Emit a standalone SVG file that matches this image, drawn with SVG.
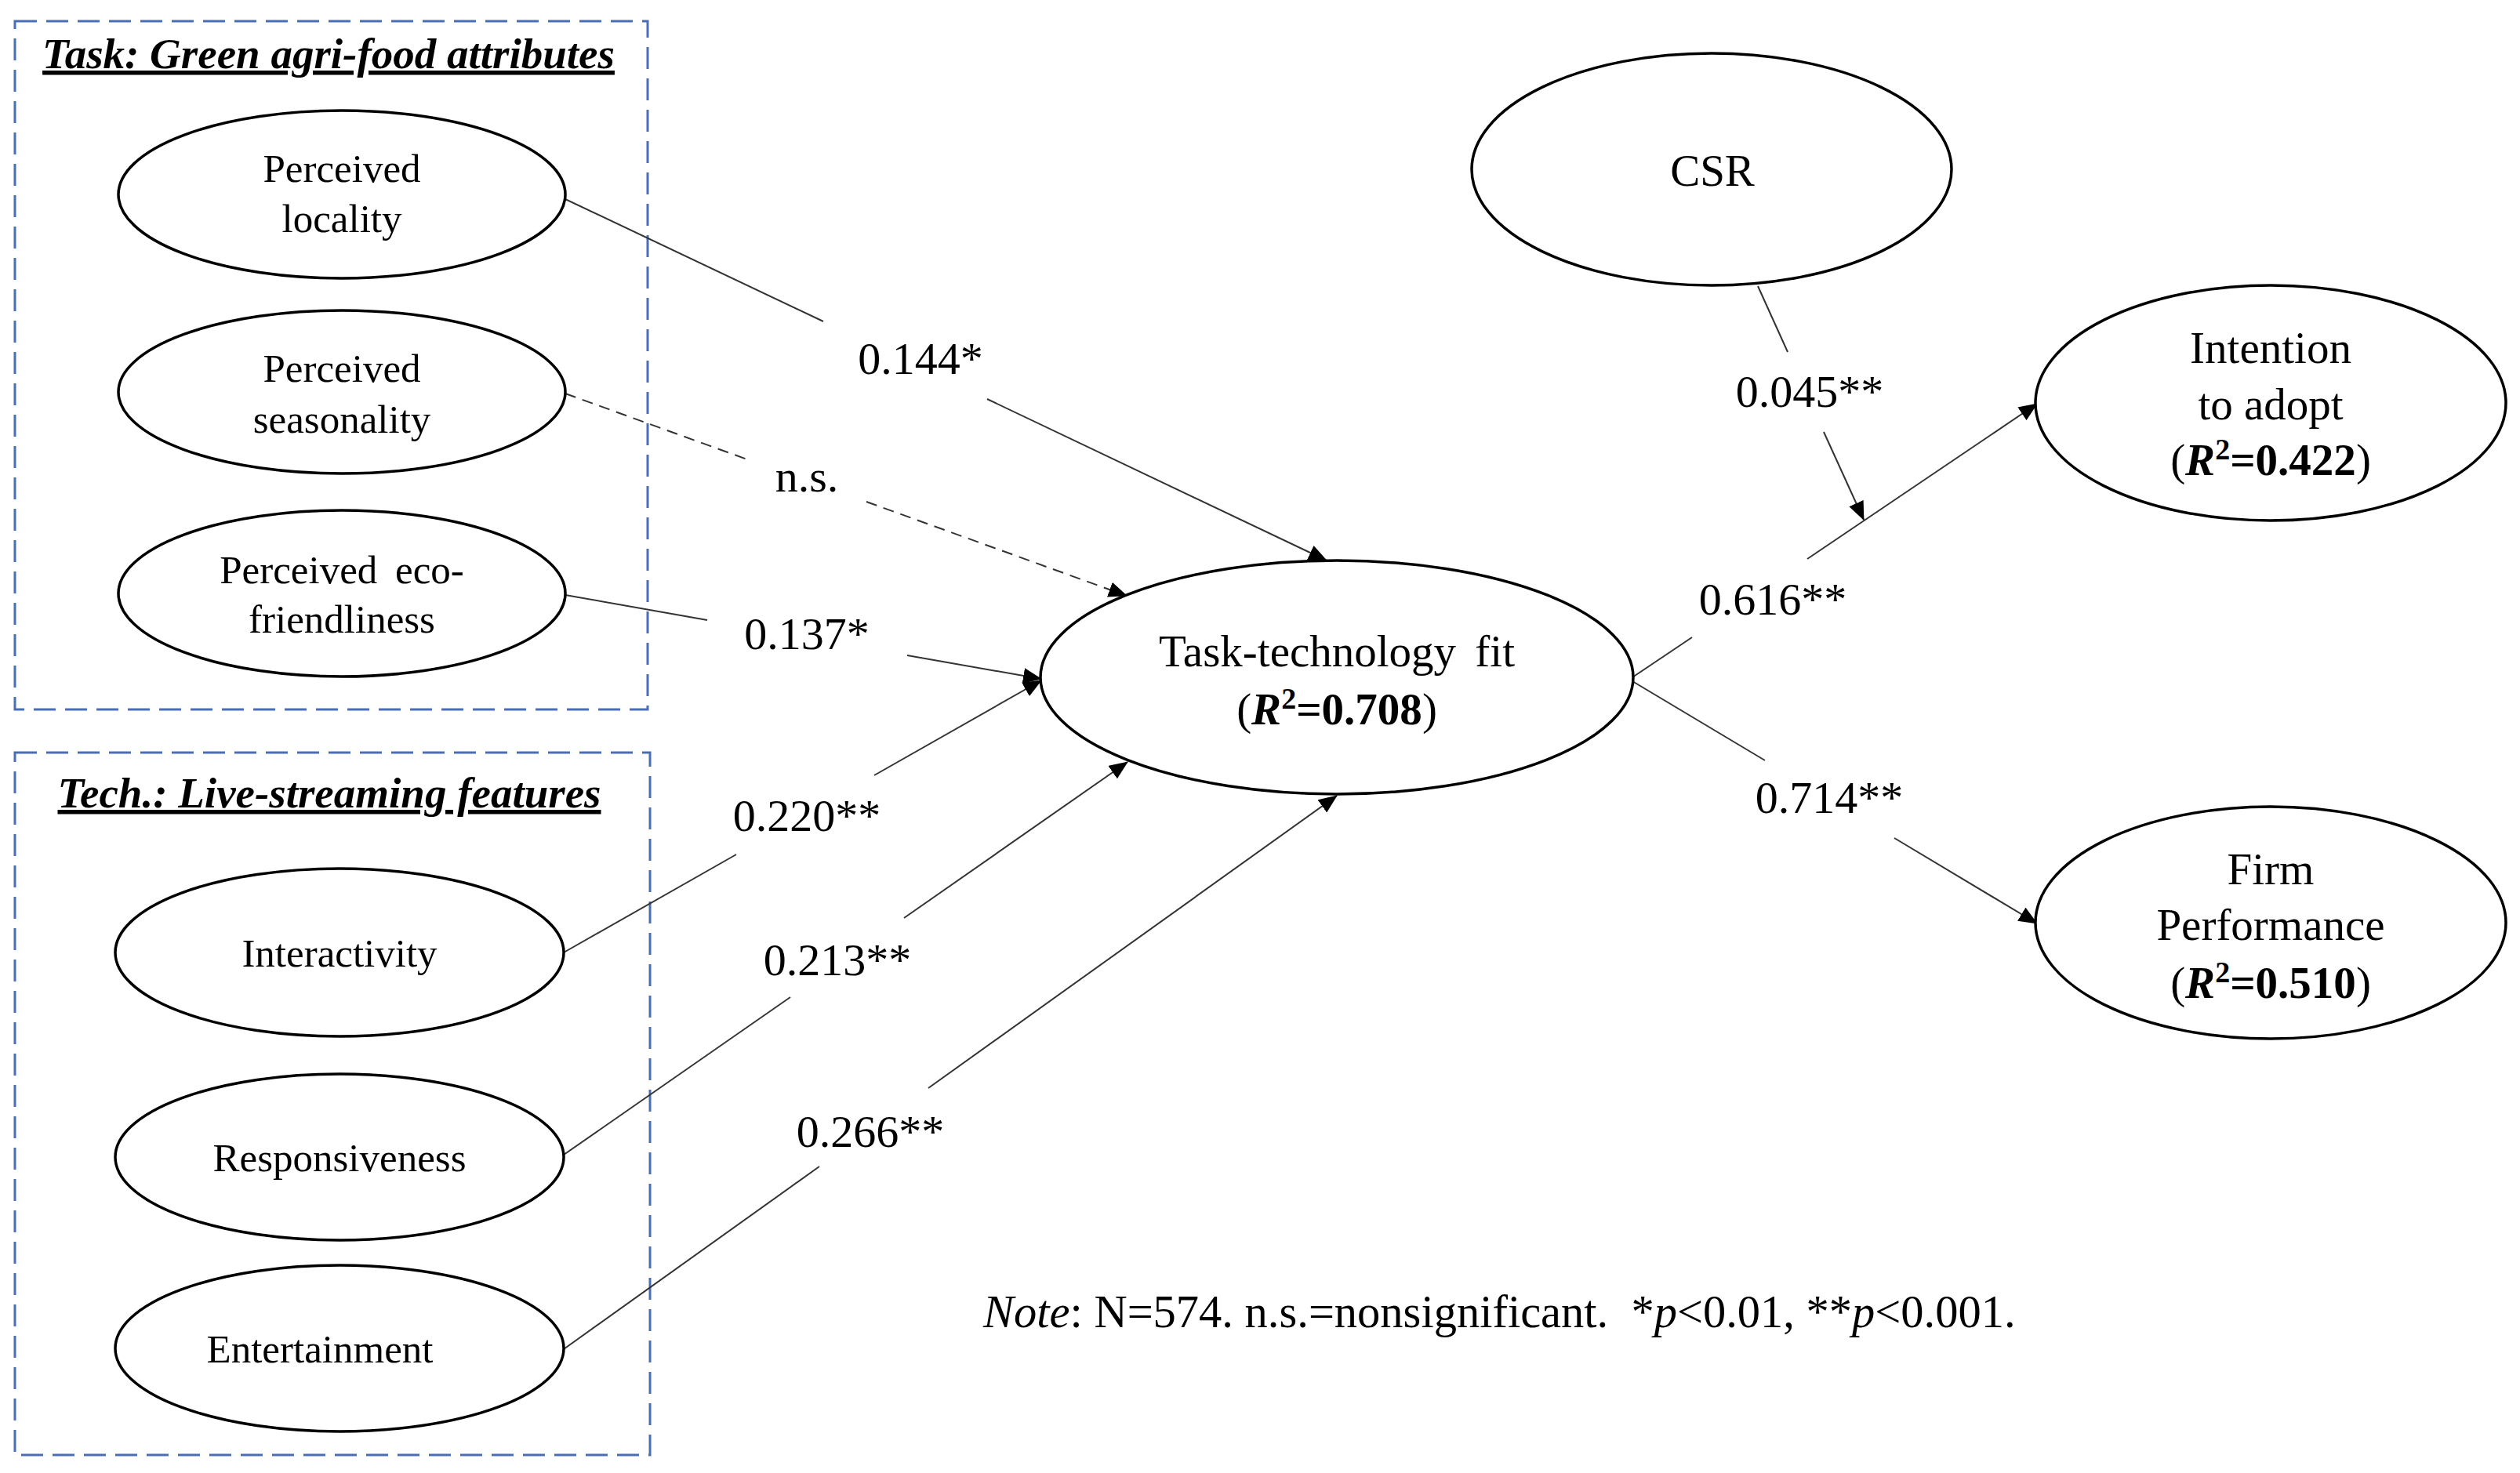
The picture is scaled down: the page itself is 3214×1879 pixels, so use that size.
<svg xmlns="http://www.w3.org/2000/svg" width="3214" height="1879" viewBox="0 0 3214 1879">
<style>
text{font-family:"Liberation Serif","Times New Roman",serif;fill:#000}
.node ellipse{fill:#fff;stroke:#000;stroke-width:3.5}
.sm{font-size:51px;text-anchor:middle}
.lg{font-size:57px;text-anchor:middle}
.lbl{font-size:58px;text-anchor:middle}
.ttl{font-size:55px;font-weight:bold;font-style:italic;text-anchor:middle;text-decoration:underline}
.grp{fill:none;stroke:#4A6EB5;stroke-width:3;stroke-dasharray:28 12}
.conn line{stroke:#333;stroke-width:2}
.dash{stroke-dasharray:14 9}
.b{font-weight:bold}
.i{font-style:italic}
</style>
<defs>
<marker id="ah" markerUnits="userSpaceOnUse" markerWidth="24" markerHeight="20" refX="23" refY="10" orient="auto">
<path d="M0,0 L24,10 L0,20 z" fill="#000"/>
</marker>
</defs>
<rect width="3214" height="1879" fill="#fff"/>

<g id="group-task">
<rect class="grp" x="19" y="27" width="807" height="878"/>
<text class="ttl" x="419" y="87">Task: Green agri-food attributes</text>
</g>
<g id="group-tech">
<rect class="grp" x="19" y="960" width="810" height="896"/>
<text class="ttl" x="420" y="1030">Tech.: Live-streaming features</text>
</g>

<g id="connectors" class="conn">
<line x1="721" y1="254" x2="1050" y2="410"/>
<line x1="1259" y1="509" x2="1692" y2="715" marker-end="url(#ah)"/>
<line class="dash" x1="721" y1="502" x2="953" y2="586"/>
<line class="dash" x1="1105" y1="640" x2="1437" y2="760" marker-end="url(#ah)"/>
<line x1="721" y1="759" x2="902" y2="791"/>
<line x1="1157" y1="836" x2="1328" y2="866" marker-end="url(#ah)"/>
<line x1="719" y1="1215" x2="939" y2="1090"/>
<line x1="1115" y1="989" x2="1328" y2="868" marker-end="url(#ah)"/>
<line x1="719" y1="1473" x2="1008" y2="1272"/>
<line x1="1153" y1="1171" x2="1438" y2="972" marker-end="url(#ah)"/>
<line x1="719" y1="1721" x2="1045" y2="1488"/>
<line x1="1184" y1="1388" x2="1705" y2="1015" marker-end="url(#ah)"/>
<line x1="2082" y1="864" x2="2158" y2="813"/>
<line x1="2305" y1="713" x2="2598" y2="515" marker-end="url(#ah)"/>
<line x1="2242" y1="365" x2="2280" y2="449"/>
<line x1="2326" y1="551" x2="2377" y2="663" marker-end="url(#ah)"/>
<line x1="2082" y1="869" x2="2251" y2="970"/>
<line x1="2416" y1="1069" x2="2598" y2="1178" marker-end="url(#ah)"/>
<text class="lbl" x="1174" y="477">0.144*</text>
<text class="lbl" x="1029" y="627">n.s.</text>
<text class="lbl" x="1029" y="828">0.137*</text>
<text class="lbl" x="1029" y="1060">0.220**</text>
<text class="lbl" x="1068" y="1244">0.213**</text>
<text class="lbl" x="1110" y="1463">0.266**</text>
<text class="lbl" x="2308" y="519">0.045**</text>
<text class="lbl" x="2261" y="784">0.616**</text>
<text class="lbl" x="2333" y="1037">0.714**</text>
</g>

<g id="node-locality" class="node">
<ellipse cx="436" cy="248" rx="285" ry="107"/>
<text class="sm" x="436" y="232">Perceived</text>
<text class="sm" x="436" y="296">locality</text>
</g>
<g id="node-seasonality" class="node">
<ellipse cx="436" cy="500" rx="285" ry="104"/>
<text class="sm" x="436" y="487">Perceived</text>
<text class="sm" x="436" y="552">seasonality</text>
</g>
<g id="node-eco" class="node">
<ellipse cx="436" cy="757" rx="285" ry="106"/>
<text class="sm" x="436" y="744" word-spacing="10">Perceived eco-</text>
<text class="sm" x="436" y="807">friendliness</text>
</g>
<g id="node-interactivity" class="node">
<ellipse cx="433" cy="1215" rx="286" ry="107"/>
<text class="sm" x="433" y="1233">Interactivity</text>
</g>
<g id="node-responsiveness" class="node">
<ellipse cx="433" cy="1476" rx="286" ry="106"/>
<text class="sm" x="433" y="1494">Responsiveness</text>
</g>
<g id="node-entertainment" class="node">
<ellipse cx="433" cy="1720" rx="286" ry="106"/>
<text class="sm" x="408" y="1738">Entertainment</text>
</g>
<g id="node-ttf" class="node">
<ellipse cx="1705" cy="864" rx="378" ry="149"/>
<text class="lg" x="1705" y="850" word-spacing="10">Task-technology fit</text>
<text class="lg" x="1705" y="924">(<tspan class="b i">R</tspan><tspan class="b" font-size="38" dy="-20">2</tspan><tspan class="b" dy="20">=0.708</tspan>)</text>
</g>
<g id="node-csr" class="node">
<ellipse cx="2183" cy="216" rx="306" ry="148"/>
<text class="lg" x="2184" y="237">CSR</text>
</g>
<g id="node-intention" class="node">
<ellipse cx="2896" cy="514" rx="300" ry="150"/>
<text class="lg" x="2896" y="463">Intention</text>
<text class="lg" x="2896" y="535">to adopt</text>
<text class="lg" x="2896" y="606">(<tspan class="b i">R</tspan><tspan class="b" font-size="38" dy="-20">2</tspan><tspan class="b" dy="20">=0.422</tspan>)</text>
</g>
<g id="node-firm" class="node">
<ellipse cx="2896" cy="1177" rx="300" ry="148"/>
<text class="lg" x="2896" y="1128">Firm</text>
<text class="lg" x="2896" y="1199">Performance</text>
<text class="lg" x="2896" y="1273">(<tspan class="b i">R</tspan><tspan class="b" font-size="38" dy="-20">2</tspan><tspan class="b" dy="20">=0.510</tspan>)</text>
</g>

<text x="1254" y="1693" font-size="58.5" xml:space="preserve"><tspan class="i">Note</tspan>: N=574. n.s.=nonsignificant.  *<tspan class="i">p</tspan>&lt;0.01, **<tspan class="i">p</tspan>&lt;0.001.</text>
</svg>
